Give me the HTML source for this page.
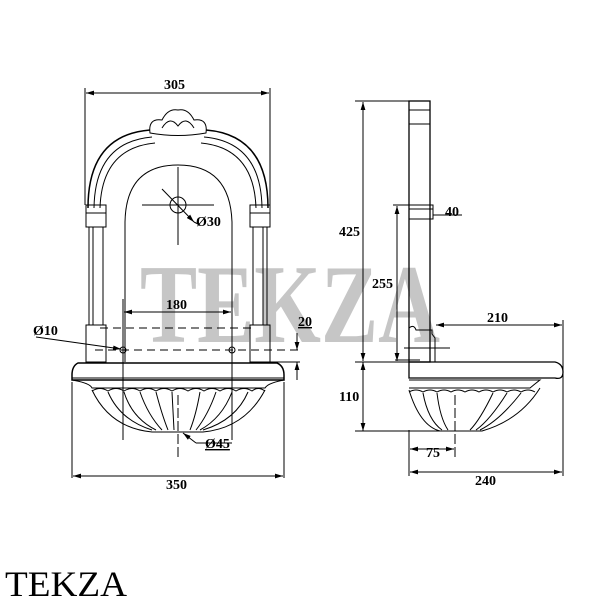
<!DOCTYPE html>
<html><head><style>body{margin:0;background:#fff}svg{display:block}</style></head>
<body>
<svg width="600" height="600" viewBox="0 0 600 600" xmlns="http://www.w3.org/2000/svg" font-family="Liberation Serif, serif" font-weight="bold">
<defs><marker id="a" viewBox="0 0 10 6" refX="10" refY="3" markerWidth="8" markerHeight="5" orient="auto-start-reverse"><path d="M0,0L10,3L0,6z" fill="#000"/></marker></defs>
<text x="140" y="342" font-size="112" font-weight="bold" fill="#c6c6c6" textLength="300" lengthAdjust="spacingAndGlyphs">TEKZA</text>
<g stroke="#000" fill="none" stroke-width="1">
<line x1="85" y1="88" x2="85" y2="205"/><line x1="270" y1="88" x2="270" y2="205"/>
<line x1="86" y1="93" x2="269" y2="93" marker-start="url(#a)" marker-end="url(#a)"/>
<path d="M150,133 Q148,118 162,120 Q168,108 178,110 Q188,108 194,120 Q208,118 206,133 Q178,138 150,133z"/>
<path d="M162,128 Q170,115 178,126 Q186,115 194,128"/>
<path d="M88,208 Q88,135 150,130 M206,130 Q268,135 268,208" stroke-width="1.5"/>
<path d="M94,208 Q95,142 152,137 M204,137 Q261,142 262,208"/>
<path d="M100,208 Q102,148 155,143 M201,143 Q254,148 256,208"/>
<path d="M125,362 L125,222 Q126,165 178,165 Q230,165 232,222 L232,362"/>
<rect x="86" y="205" width="20" height="22"/><rect x="250" y="205" width="20" height="22"/>
<line x1="86" y1="213" x2="106" y2="213"/><line x1="250" y1="213" x2="270" y2="213"/>
<rect x="89" y="227" width="14" height="98"/><rect x="253" y="227" width="14" height="98"/>
<line x1="93" y1="227" x2="93" y2="325"/><line x1="263" y1="227" x2="263" y2="325"/>
<rect x="86" y="325" width="20" height="37"/><rect x="250" y="325" width="20" height="37"/>
<circle cx="178" cy="205" r="8"/>
<line x1="178" y1="167" x2="178" y2="245"/><line x1="142" y1="205" x2="214" y2="205"/>
<line x1="162" y1="189" x2="194" y2="222" marker-end="url(#a)"/><line x1="194" y1="222" x2="200" y2="225"/>
<line x1="123" y1="299" x2="123" y2="440"/><line x1="232" y1="299" x2="232" y2="440"/>
<line x1="124" y1="312" x2="231" y2="312" marker-start="url(#a)" marker-end="url(#a)"/>
<line x1="100" y1="328" x2="255" y2="328" stroke-dasharray="8,5"/>
<line x1="95" y1="350" x2="300" y2="350" stroke-dasharray="8,5"/>
<circle cx="123" cy="350" r="3"/><circle cx="232" cy="350" r="3"/>
<line x1="36" y1="337" x2="121" y2="349" marker-end="url(#a)"/>
<line x1="255" y1="362" x2="300" y2="362"/>
<line x1="297" y1="333" x2="297" y2="350" marker-end="url(#a)"/><line x1="297" y1="380" x2="297" y2="362" marker-end="url(#a)"/>
<path d="M78,363 L277,363 Q284,366 284,375 L284,380 L72,380 L72,375 Q72,366 78,363z" stroke-width="1.5"/>
<line x1="72" y1="378" x2="284" y2="378"/>
<path d="M72,380 Q90,383 92,388 L265,388 Q268,383 284,380"/>
<path d="M92,390 Q110,428 152,432 L203,432 Q245,428 265,390"/>
<path d="M92,391 Q100,386 108,391 Q116,386 124,391 Q132,386 140,391 Q148,386 156,391 Q164,386 172,391 Q180,386 188,391 Q196,386 204,391 Q212,386 220,391 Q228,386 236,391 Q244,386 252,391 Q258,386 265,391"/>
<path d="M108,392 Q120,420 152,430 M124,392 Q132,418 156,430 M140,392 Q148,415 162,430 M156,392 Q162,415 168,430 M172,392 L174,430 M200,392 Q196,415 190,430 M216,392 Q208,415 196,430 M232,392 Q222,418 200,430 M248,392 Q236,420 203,430"/>
<line x1="178" y1="395" x2="178" y2="458" stroke-dasharray="10,3"/>
<line x1="196" y1="443" x2="183" y2="433" marker-end="url(#a)"/><line x1="196" y1="443" x2="232" y2="443"/>
<line x1="72" y1="382" x2="72" y2="478"/><line x1="284" y1="382" x2="284" y2="478"/>
<line x1="73" y1="476" x2="283" y2="476" marker-start="url(#a)" marker-end="url(#a)"/>
<line x1="355" y1="101" x2="409" y2="101"/>
<rect x="409" y="101" width="21" height="261" stroke-width="1.3"/>
<line x1="409" y1="110" x2="430" y2="110"/><line x1="409" y1="124" x2="430" y2="124"/>
<rect x="409" y="205" width="24" height="14"/><line x1="409" y1="209" x2="433" y2="209"/>
<line x1="433" y1="215" x2="462" y2="215"/>
<line x1="393" y1="205" x2="409" y2="205"/>
<line x1="363" y1="102" x2="363" y2="361" marker-start="url(#a)" marker-end="url(#a)"/>
<line x1="397" y1="206" x2="397" y2="361" marker-start="url(#a)" marker-end="url(#a)"/>
<path d="M409,362 L409,328 Q414,324 416,330 L432,330 L432,334 L435,338 L435,362"/>
<line x1="404" y1="348" x2="450" y2="348"/><line x1="395" y1="360" x2="420" y2="360"/>
<line x1="436" y1="325" x2="562" y2="325" marker-start="url(#a)" marker-end="url(#a)"/>
<line x1="563" y1="320" x2="563" y2="476"/>
<line x1="355" y1="362" x2="409" y2="362"/>
<path d="M409,362 L555,362 Q563,364 563,372 Q563,380 555,378 L409,378z" stroke-width="1.3"/>
<path d="M409,380 L540,380 Q536,383 530,388 L409,388"/>
<path d="M409,390 Q420,426 440,431 L482,431 Q520,420 540,388"/>
<path d="M409,392 Q416,388 423,392 Q430,388 437,392 Q444,388 451,392 Q458,388 465,392 Q472,388 479,392 Q486,388 493,392 Q500,388 507,392 Q514,388 521,392 Q528,388 535,392"/>
<path d="M423,393 Q428,420 442,430 M437,393 Q440,418 448,430 M493,393 Q480,420 470,430 M507,393 Q490,420 476,430 M521,393 Q500,420 480,430"/>
<line x1="455" y1="395" x2="455" y2="458" stroke-dasharray="10,3"/>
<line x1="355" y1="431" x2="455" y2="431"/>
<line x1="363" y1="362" x2="363" y2="431" marker-start="url(#a)" marker-end="url(#a)"/>
<line x1="409" y1="430" x2="409" y2="476"/>
<line x1="410" y1="449" x2="454" y2="449" marker-start="url(#a)" marker-end="url(#a)"/>
<line x1="410" y1="472" x2="562" y2="472" marker-start="url(#a)" marker-end="url(#a)"/>
</g>
<g font-size="14" fill="#000">
<text x="164" y="89">305</text>
<text x="196" y="226">Ø30</text>
<text x="166" y="309">180</text>
<text x="33" y="335">Ø10</text>
<text x="298" y="326" text-decoration="underline">20</text>
<text x="205" y="448" text-decoration="underline">Ø45</text>
<text x="166" y="489">350</text>
<text x="339" y="236">425</text>
<text x="372" y="288">255</text>
<text x="445" y="216">40</text>
<text x="487" y="322">210</text>
<text x="339" y="401">110</text>
<text x="426" y="457">75</text>
<text x="475" y="485">240</text>
</g>
<text x="5" y="596" font-size="36" font-weight="normal" fill="#000" textLength="122" lengthAdjust="spacingAndGlyphs">TEKZA</text>
</svg>
</body></html>
